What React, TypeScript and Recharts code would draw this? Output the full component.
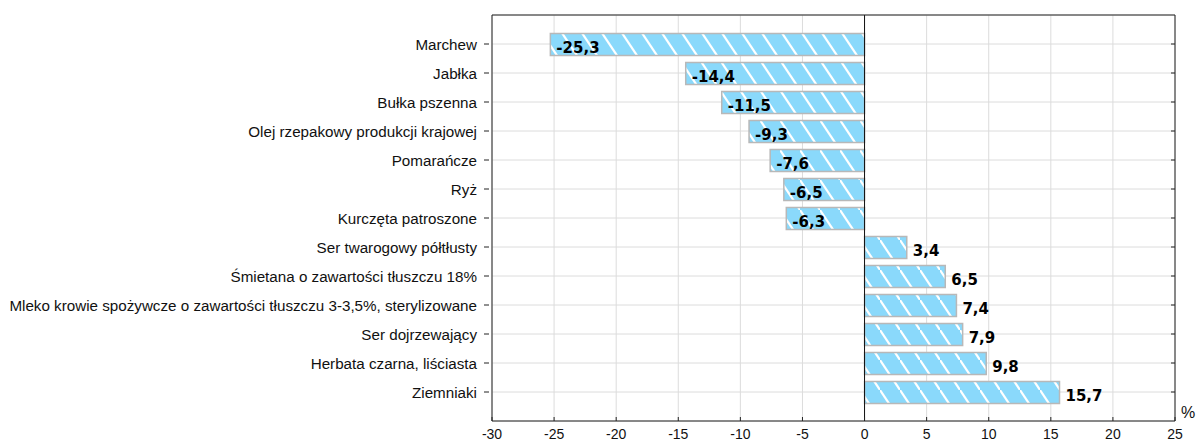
import React from "react";
import {
  BarChart,
  Bar,
  XAxis,
  YAxis,
  CartesianGrid,
  ReferenceLine,
  LabelList,
} from "recharts";

// --- Data ---

const products = [
  "Marchew",
  "Jabłka",
  "Bułka pszenna",
  "Olej rzepakowy produkcji krajowej",
  "Pomarańcze",
  "Ryż",
  "Kurczęta patroszone",
  "Ser twarogowy półtłusty",
  "Śmietana o zawartości tłuszczu 18%",
  "Mleko krowie spożywcze o zawartości tłuszczu 3-3,5%, sterylizowane",
  "Ser dojrzewający",
  "Herbata czarna, liściasta",
  "Ziemniaki",
];

const changes = [-25.3, -14.4, -11.5, -9.3, -7.6, -6.5, -6.3, 3.4, 6.5, 7.4, 7.9, 9.8, 15.7];

const xTicks = [-30, -25, -20, -15, -10, -5, 0, 5, 10, 15, 20, 25];

const chartData = products.map((name, i) => ({ name, value: changes[i] }));

// --- Components ---

const fmt = (v: number) => v.toFixed(1).replace(".", ",");

const CategoryTick = (props: any) => {
  const { x, y, payload } = props;
  return (
    <g>
      <line x1={x} x2={x + 5} y1={y} y2={y} stroke="#222" />
      <text
        x={x - 7}
        y={y}
        dy={5.5}
        textAnchor="end"
        fontSize={15.2}
        fontFamily="'Liberation Sans', Arial, sans-serif"
        fill="#111"
      >
        {payload.value}
      </text>
    </g>
  );
};

const ValueLabel = (props: any) => {
  const { x, y, width, height, value } = props;
  const left = Math.min(x, x + width);
  const right = Math.max(x, x + width);
  const tx = value < 0 ? left + 6 : right + 6;
  return (
    <text
      x={tx}
      y={y + height / 2 + 8}
      fontSize={15}
      fontWeight="bold"
      fontFamily="'DejaVu Sans', Arial, sans-serif"
      fill="#000"
    >
      {fmt(value)}
    </text>
  );
};

function PriceChangeChart() {
  return (
    <BarChart
      width={1197}
      height={441}
      data={chartData}
      layout="vertical"
      margin={{ top: 14, right: 21, left: 0, bottom: 0 }}
    >
      <defs>
        <pattern id="hatch" patternUnits="userSpaceOnUse" width={20} height={30}>
          <rect x={0} y={0} width={20} height={30} fill="#8ad9fb" />
          <line x1={0} y1={0} x2={20} y2={30} stroke="#fff" strokeWidth={2.2} />
          <line x1={-20} y1={-30} x2={0} y2={0} stroke="#fff" strokeWidth={2.2} />
          <line x1={20} y1={30} x2={40} y2={60} stroke="#fff" strokeWidth={2.2} />
        </pattern>
      </defs>
      <CartesianGrid stroke="#dcdcdc" vertical horizontal />
      <XAxis
        type="number"
        domain={[-30, 25]}
        ticks={xTicks}
        height={20}
        tickSize={-4}
        tickMargin={12}
        stroke="#222"
        tick={{ fill: "#111", fontSize: 14, fontFamily: "'Liberation Sans', Arial, sans-serif" }}
        label={{
          value: "%",
          position: "right",
          dx: 1,
          dy: -19,
          fill: "#111",
          fontSize: 16,
          fontFamily: "'Liberation Sans', Arial, sans-serif",
        }}
      />
      <XAxis
        xAxisId="top"
        orientation="top"
        type="number"
        domain={[-30, 25]}
        ticks={xTicks}
        height={1}
        tickSize={-4}
        stroke="#222"
        tickFormatter={() => ""}
      />
      <YAxis
        type="category"
        dataKey="name"
        width={492}
        padding={{ top: 14.5, bottom: 14.5 }}
        stroke="#222"
        tickLine={false}
        tick={<CategoryTick />}
        interval={0}
      />
      <YAxis
        yAxisId="right"
        orientation="right"
        type="category"
        dataKey="name"
        width={1}
        padding={{ top: 14.5, bottom: 14.5 }}
        stroke="#222"
        tickSize={-4}
        interval={0}
        tickFormatter={() => ""}
      />
      <Bar
        dataKey="value"
        fill="url(#hatch)"
        stroke="#b8b8b8"
        strokeWidth={1.5}
        barSize={22}
        isAnimationActive={false}
      >
        <LabelList dataKey="value" content={<ValueLabel />} />
      </Bar>
      <ReferenceLine x={0} stroke="#111" strokeWidth={1} />
    </BarChart>
  );
}

export default function App() {
  return (
    <div style={{ position: "absolute", left: 0, top: 0, width: 1197, height: 441, background: "#fff" }}>
      <PriceChangeChart />
    </div>
  );
}
